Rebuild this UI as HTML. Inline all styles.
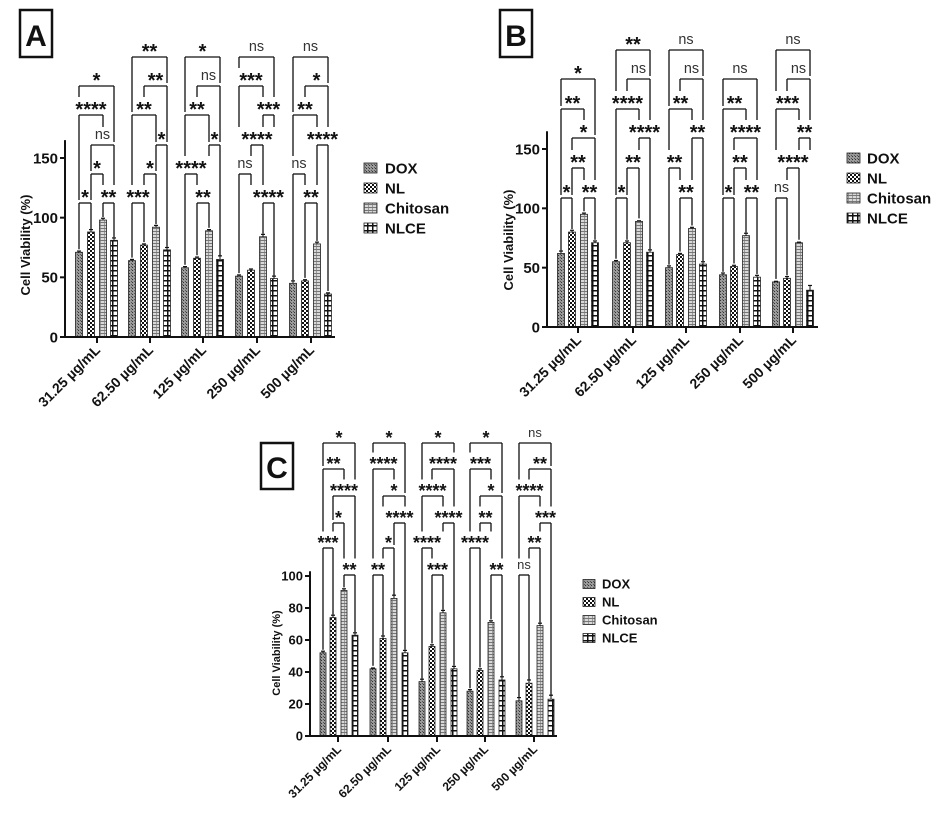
<!DOCTYPE html>
<html><head><meta charset="utf-8"><style>
html,body{margin:0;padding:0;background:#fff;}
svg{display:block;font-family:"Liberation Sans",Arial,sans-serif;}
</style></head><body>
<svg id="s" width="946" height="826" viewBox="0 0 946 826" xmlns="http://www.w3.org/2000/svg">
<defs>
<pattern id="pD" width="3" height="3" patternUnits="userSpaceOnUse"><rect width="3" height="3" fill="#9a9a9a"/><rect width="1" height="1" fill="#333"/><rect x="2" y="2" width="1" height="1" fill="#555"/></pattern>
<pattern id="pN" width="4" height="4" patternUnits="userSpaceOnUse"><rect width="4" height="4" fill="#fff"/><rect width="2" height="2" fill="#111"/><rect x="2" y="2" width="2" height="2" fill="#111"/></pattern>
<pattern id="pC" width="4" height="3" patternUnits="userSpaceOnUse"><rect width="4" height="3" fill="#d8d8d8"/><rect width="4" height="1" fill="#777"/><rect x="0" y="1" width="1" height="2" fill="#999"/></pattern>
<pattern id="pE" width="5" height="5" patternUnits="userSpaceOnUse"><rect width="5" height="5" fill="#fff"/><rect width="5" height="1.5" fill="#111"/><rect x="2" width="1.5" height="5" fill="#111"/></pattern>
</defs>
<g id="g"></g>
</svg>
<script>
var NS="http://www.w3.org/2000/svg",G=document.getElementById('g');
function el(t,a,txt){var e=document.createElementNS(NS,t);for(var k in a)e.setAttribute(k,a[k]);if(txt!=null)e.textContent=txt;G.appendChild(e);return e;}
function line(x1,y1,x2,y2,w){el('line',{x1:x1,y1:y1,x2:x2,y2:y2,stroke:'#111','stroke-width':w||1.3});}
var pats=['pD','pN','pC','pE'],names=['DOX','NL','Chitosan','NLCE'];
var xl=['31.25 µg/mL','62.50 µg/mL','125 µg/mL','250 µg/mL','500 µg/mL'];
function panel(P){
  var y0=P.y0,u=P.u;
  var tops=[];
  for(var g=0;g<5;g++){tops[g]=[];for(var b=0;b<4;b++){
    var v=P.vals[g][b],x=P.cx[g]+P.off[b],h=v*u,top=y0-h;tops[g][b]=top-3;
    el('rect',{x:x-P.bw/2,y:top,width:P.bw,height:h,fill:'url(#'+pats[b]+')',stroke:'#222','stroke-width':0.8});
    var e=P.err[g][b]*u;line(x,top-e,x,top,1);line(x-2,top-e,x+2,top-e,1.2);
  }}
  line(P.ax0,y0,P.ax1,y0,2);line(P.ax0,y0,P.ax0,y0-P.ymax*u,2);
  P.ticks.forEach(function(t){var y=y0-t*u;line(P.ax0-5,y,P.ax0,y,2);
    el('text',{x:P.ax0-7,y:y+P.tf*0.36,'font-size':P.tf,'font-weight':'bold','text-anchor':'end',fill:'#111'},t);});
  for(var g=0;g<5;g++){line(P.cx[g],y0,P.cx[g],y0+6,2);
    el('text',{x:0,y:0,'font-size':P.fs,'font-weight':'bold','text-anchor':'end',fill:'#111',transform:'translate('+(P.cx[g]+4)+','+(y0+14)+') rotate(-45)'},xl[g]);}
  el('text',{x:0,y:0,'font-size':P.fs-1,'font-weight':'bold','text-anchor':'middle',fill:'#111',transform:'translate('+P.ytx+','+P.yty+') rotate(-90)'},'Cell  Viability (%)');
  for(var g=0;g<5;g++){
    var br=P.br[g],obs=[];
    br.forEach(function(q){var ly=P.rows[q[0]],x1=P.cx[g]+P.off[q[1]],x2=P.cx[g]+P.off[q[2]],cx=(x1+x2)/2;
      var w=q[3]=='ns'?P.sf*0.7:q[3].length*P.sf*0.5;
      obs.push({a:x1-1,b:x2+1,y:ly});obs.push({a:cx-w/2,b:cx+w/2,y:ly-P.sf*0.75});});
    br.forEach(function(q){var ly=P.rows[q[0]],x1=P.cx[g]+P.off[q[1]],x2=P.cx[g]+P.off[q[2]],cx=(x1+x2)/2;
      line(x1,ly,x2,ly,1.3);
      [[x1,q[1]],[x2,q[2]]].forEach(function(L){var x=L[0],end=tops[g][L[1]];
        obs.forEach(function(o){if(o.y>ly+1&&x>=o.a&&x<=o.b&&o.y-3<end)end=o.y-3;});
        line(x,ly,x,end,1.3);});
      if(q[3]=='ns')el('text',{x:cx,y:ly-6,'font-size':P.sf*0.72,'text-anchor':'middle',fill:'#333'},'ns');
      else el('text',{x:cx,y:ly+1,'font-size':P.sf,'font-weight':'bold','text-anchor':'middle',fill:'#111'},q[3]);
    });
  }
  for(var i=0;i<4;i++){var y=P.lg[1]+i*P.lg[3];
    el('rect',{x:P.lg[0],y:y-P.lg[4]/2,width:P.lg[4]+3,height:P.lg[4],fill:'url(#'+pats[i]+')',stroke:'#222','stroke-width':0.8});
    el('text',{x:P.lg[2],y:y+P.lf*0.36,'font-size':P.lf,'font-weight':'bold',fill:'#111'},names[i]);}
  el('rect',{x:P.box[0],y:P.box[1],width:P.box[2]-P.box[0],height:P.box[3]-P.box[1],fill:'#fff',stroke:'#111','stroke-width':2.5});
  el('text',{x:(P.box[0]+P.box[2])/2,y:P.box[3]-11,'font-size':30,'font-weight':'bold','text-anchor':'middle',fill:'#111'},P.L);
}
panel({L:'A',y0:337,u:179/150,ymax:165,ax0:65,ax1:335,cx:[97,150,203,257,311],off:[-18,-6,6,17],bw:7,fs:14,tf:15,lf:15,sf:20,
 ticks:[0,50,100,150],ytx:30,yty:245,rows:[203,174,145,115,86,57],
 vals:[[71,88,98,81],[64,77,92,73],[58,66,89,65],[51,56,84,49],[45,47,78,36]],
 err:[[1,2,1.5,2],[1,1,1.5,2],[1,1,1,3],[1,1,2,2],[2,1,1.5,1]],
 br:[[[0,0,1,'*'],[0,2,3,'**'],[1,1,2,'*'],[2,1,3,'ns'],[3,0,2,'****'],[4,0,3,'*']],
     [[0,0,1,'***'],[1,1,2,'*'],[2,2,3,'*'],[3,0,2,'**'],[4,1,3,'**'],[5,0,3,'**']],
     [[0,1,2,'**'],[1,0,1,'****'],[2,2,3,'*'],[3,0,2,'**'],[4,1,3,'ns'],[5,0,3,'*']],
     [[0,2,3,'****'],[1,0,1,'ns'],[2,1,2,'****'],[3,2,3,'***'],[4,0,2,'***'],[5,0,3,'ns']],
     [[0,1,2,'**'],[1,0,1,'ns'],[2,2,3,'****'],[3,0,2,'**'],[4,1,3,'*'],[5,0,3,'ns']]],
 lg:[364,168,385,20,10],box:[20,10,52,57]});
panel({L:'B',y0:327,u:178/150,ymax:165,ax0:547,ax1:818,cx:[578,633,686,740,793],off:[-17,-6,6,17],bw:7,fs:14,tf:15,lf:15,sf:20,
 ticks:[0,50,100,150],ytx:513,yty:240,rows:[198,168,138,109,79,50],
 vals:[[62,80,95,71],[55,71,89,63],[50,61,83,53],[44,51,77,42],[38,41,71,31]],
 err:[[2,1.5,1,1.5],[1,1.5,0.5,2],[1.5,1,1,2],[1.5,1,2,1.5],[0.5,1.5,0.5,4]],
 br:[[[0,0,1,'*'],[0,2,3,'**'],[1,1,2,'**'],[2,1,3,'*'],[3,0,2,'**'],[4,0,3,'*']],
     [[0,0,1,'*'],[1,1,2,'**'],[2,2,3,'****'],[3,0,2,'****'],[4,1,3,'ns'],[5,0,3,'**']],
     [[0,1,2,'**'],[1,0,1,'**'],[2,2,3,'**'],[3,0,2,'**'],[4,1,3,'ns'],[5,0,3,'ns']],
     [[0,0,1,'*'],[0,2,3,'**'],[1,1,2,'**'],[2,1,3,'****'],[3,0,2,'**'],[4,0,3,'ns']],
     [[0,0,1,'ns'],[1,1,2,'****'],[2,2,3,'**'],[3,0,2,'***'],[4,1,3,'ns'],[5,0,3,'ns']]],
 lg:[847,158,867,20,10],box:[500,10,532,57]});
panel({L:'C',y0:736,u:1.6,ymax:103,ax0:310,ax1:557,cx:[338,388,437,485,534],off:[-15,-5,6,17],bw:6,fs:12,tf:13,lf:13,sf:18,
 ticks:[0,20,40,60,80,100],ytx:280,yty:653,rows:[575,548,523,496,469,443],
 vals:[[52,74,91,63],[42,61,86,52],[34,56,77,42],[28,41,71,35],[22,33,69,23]],
 err:[[1,1.5,1,1.5],[0.5,1.5,2,1.5],[1.5,1,1.5,1.5],[1,1,1,2],[2,2,1.5,2.5]],
 br:[[[0,2,3,'**'],[1,0,1,'***'],[2,1,2,'*'],[3,1,3,'****'],[4,0,2,'**'],[5,0,3,'*']],
     [[0,0,1,'**'],[1,1,2,'*'],[2,2,3,'****'],[3,1,3,'*'],[4,0,2,'****'],[5,0,3,'*']],
     [[0,1,2,'***'],[1,0,1,'****'],[2,2,3,'****'],[3,0,2,'****'],[4,1,3,'****'],[5,0,3,'*']],
     [[0,2,3,'**'],[1,0,1,'****'],[2,1,2,'**'],[3,1,3,'*'],[4,0,2,'***'],[5,0,3,'*']],
     [[0,0,1,'ns'],[1,1,2,'**'],[2,2,3,'***'],[3,0,2,'****'],[4,1,3,'**'],[5,0,3,'ns']]],
 lg:[583,584,602,18,9],box:[261,443,293,489]});
</script>
</body></html>
